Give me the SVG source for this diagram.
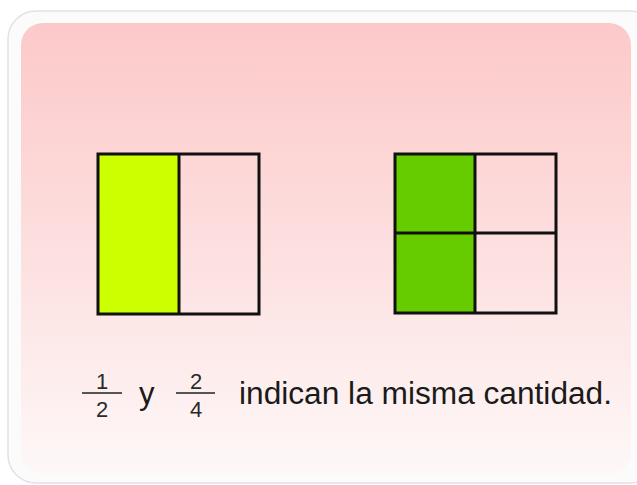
<svg xmlns="http://www.w3.org/2000/svg" width="637" height="485" viewBox="0 0 637 485">
<defs>
<linearGradient id="bg" x1="0" y1="0" x2="0" y2="1">
<stop offset="0" stop-color="#fcc9c9"/>
<stop offset="0.35" stop-color="#fdd8d8"/>
<stop offset="0.7" stop-color="#fde9e9"/>
<stop offset="1" stop-color="#fef8f8"/>
</linearGradient>
<style>
.cell{stroke:#111;stroke-width:3;fill:none}
.t{font-family:"Liberation Sans",Arial,sans-serif;fill:#1a1a1a}
.n{font-family:"Liberation Sans",Arial,sans-serif;fill:#2a2a2a;font-size:22px;text-anchor:middle}
.bar{stroke:#555;stroke-width:1.8}
</style>
</defs>
<rect width="637" height="485" fill="#ffffff"/>
<rect x="8" y="11" width="650" height="472" rx="28" fill="#fbfbfc" stroke="#e2e2e2" stroke-width="1.5"/>
<rect x="21" y="23" width="610" height="452" rx="22" fill="url(#bg)"/>
<g id="half">
<rect x="98" y="154" width="81" height="160" fill="#ccff00"/>
<rect class="cell" x="98" y="154" width="161" height="160"/>
<line class="cell" x1="179" y1="154" x2="179" y2="314"/>
</g>
<g id="quarters">
<rect x="395" y="154" width="80" height="159" fill="#66cc00"/>
<rect class="cell" x="395" y="154" width="161" height="159"/>
<line class="cell" x1="475" y1="154" x2="475" y2="313"/>
<line class="cell" x1="395" y1="233" x2="556" y2="233"/>
</g>
<g id="caption">
<text class="n" x="102" y="389">1</text>
<line class="bar" x1="82" y1="393" x2="122" y2="393"/>
<text class="n" x="102" y="417">2</text>
<text class="t" x="139" y="404" font-size="31">y</text>
<text class="n" x="196" y="389">2</text>
<line class="bar" x1="176" y1="393" x2="215" y2="393"/>
<text class="n" x="196" y="417">4</text>
<text class="t" x="239" y="404" font-size="31" textLength="373" lengthAdjust="spacingAndGlyphs">indican la misma cantidad.</text>
</g>
</svg>
